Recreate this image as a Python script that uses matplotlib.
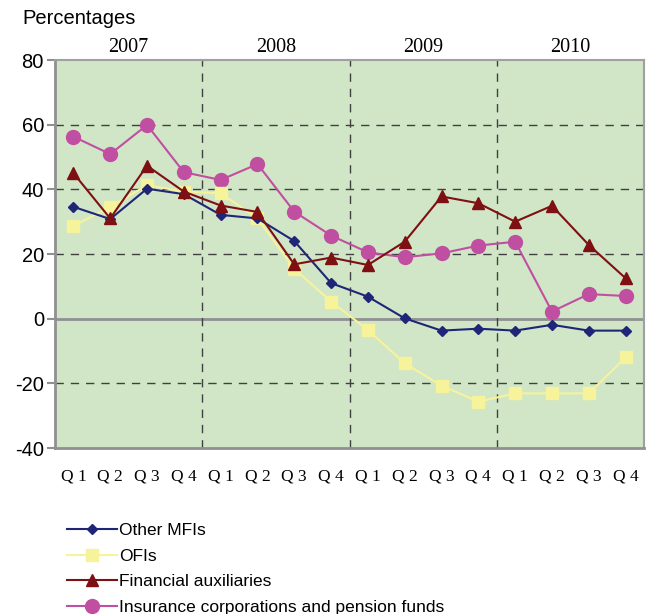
import matplotlib
matplotlib.use("Agg")
import matplotlib.pyplot as plt
from matplotlib.lines import Line2D

years = ["2007", "2008", "2009", "2010"]
quarters = ["Q 1", "Q 2", "Q 3", "Q 4"]

other_mfis = [34.6, 30.8, 40.2, 38.5, 32.1, 31.0, 24.0, 11.0, 6.8, 0.1, -3.7, -3.1, -3.7, -1.9, -3.7, -3.7]
ofis = [28.7, 34.5, 41.3, 39.3, 38.8, 31.0, 15.4, 5.3, -3.5, -13.8, -20.7, -25.7, -23.1, -23.1, -23.1, -12.0]
fin_aux = [45.0, 31.0, 47.3, 39.3, 35.0, 33.0, 16.8, 18.9, 16.6, 23.8, 37.8, 35.7, 30.0, 34.9, 22.8, 12.5]
insurance = [56.3, 50.9, 59.9, 45.3, 42.9, 47.8, 33.1, 25.7, 20.5, 19.0, 20.2, 22.6, 23.8, 2.2, 7.6, 7.0]

series_names = ["Other MFIs", "OFIs", "Financial auxiliaries",
                "Insurance corporations and pension funds"]

fig = plt.figure(figsize=(6.54, 6.14), dpi=100)
W, H = 654, 614
ax = fig.add_axes([55 / W, 1 - 448 / H, (644 - 55) / W, (448 - 60) / H])
ax.set_facecolor("#D0E6C6")

x = list(range(len(other_mfis)))
ax.plot(x, other_mfis, color="#1F2678", marker="D", markersize=5, lw=1.5, zorder=5)
ax.plot(x, ofis, color="#F7F39B", marker="s", markersize=9, lw=1.5, zorder=4)
ax.plot(x, fin_aux, color="#7E0F12", marker="^", markersize=9, lw=1.5, zorder=6)
ax.plot(x, insurance, color="#C04FA2", marker="o", markersize=10, lw=1.5, zorder=3)

ax.set_xlim(-0.5, 15.5)
ax.set_ylim(-40, 80)
ax.set_yticks(range(-40, 81, 20))
ax.set_yticklabels([str(v) for v in range(-40, 81, 20)], fontsize=14.5,
                   family=["Liberation Sans", "DejaVu Sans"])
ax.tick_params(axis="y", length=6, width=1.5, color="#909090", pad=2)

for yv in [-20, 20, 40, 60]:
    ax.axhline(yv, color="#404040", lw=1, ls=(0, (6, 5)), zorder=1)
ax.axhline(0, color="#909090", lw=2, zorder=1)
for xv in [3.5, 7.5, 11.5]:
    ax.axvline(xv, color="#404040", lw=1, ls=(0, (6, 5)), zorder=1)

ax.set_xticks(x)
ax.set_xticklabels(quarters * len(years), fontsize=12.5,
                   family=["Liberation Serif", "DejaVu Serif"])
ax.tick_params(axis="x", length=0, pad=15)

for i, yr in enumerate(years):
    ax.text(4 * i + 1.5, 1.008, yr, transform=ax.get_xaxis_transform(),
            ha="center", va="bottom", fontsize=14.5,
            family=["Liberation Serif", "DejaVu Serif"])

for s in ["left", "bottom"]:
    ax.spines[s].set_color("#909090")
    ax.spines[s].set_linewidth(2)
for s in ["right", "top"]:
    ax.spines[s].set_color("#A0A0A0")
    ax.spines[s].set_linewidth(1.5)

fig.text(22 / W, 1 - 18 / H, "Percentages", fontsize=14.5, va="center", ha="left",
         family=["Liberation Sans", "DejaVu Sans"])

handles = [
    Line2D([], [], color="#1F2678", marker="D", markersize=5, lw=1.5),
    Line2D([], [], color="#F7F39B", marker="s", markersize=9, lw=1.5),
    Line2D([], [], color="#7E0F12", marker="^", markersize=9, lw=1.5),
    Line2D([], [], color="#C04FA2", marker="o", markersize=10, lw=1.5),
]
fig.legend(handles, series_names, loc="upper left",
           bbox_to_anchor=(67 / W, 1 - 523 / H), frameon=False,
           prop={"family": ["Liberation Sans", "DejaVu Sans"], "size": 12.5},
           handlelength=2.9, handletextpad=0.1, labelspacing=0.6,
           borderaxespad=0, borderpad=0)

fig.savefig("out.png", dpi=100)
